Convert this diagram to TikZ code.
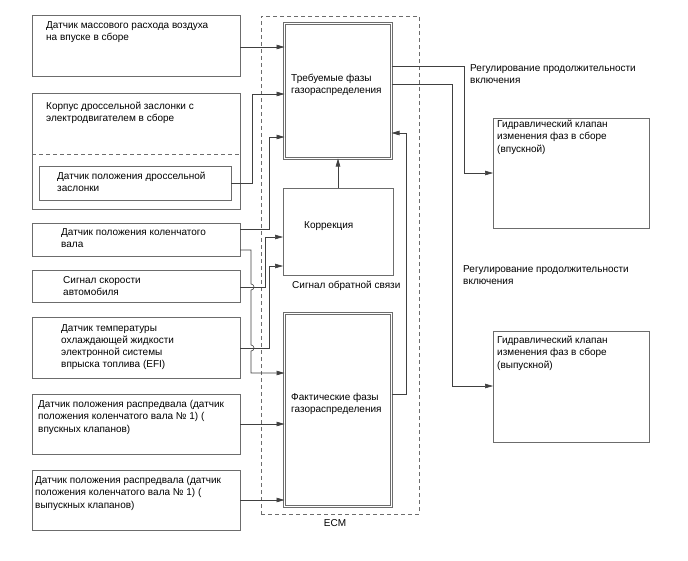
\documentclass[tikz,border=0pt]{standalone}
\usepackage{fontspec}
\setmainfont{Liberation Sans}
\usetikzlibrary{arrows.meta, positioning}

\begin{document}
\begin{tikzpicture}[
    x=1pt, y=-1pt,
    base/.style={draw=gray!85!black, line width=0.6pt, inner sep=0pt, outer sep=0pt, anchor=north west},
    sensor/.style={base, minimum width=208pt},
    ecmbox/.style={base, minimum width=107pt, double=white, double distance=1.6pt},
    valve/.style={base, minimum width=156pt},
    txt/.style={anchor=north west, inner sep=0pt, align=left, font=\fontsize{10}{12.3}\selectfont},
    arrow/.style={-{Triangle[length=8pt,width=4.5pt]}, draw=black!75, line width=0.6pt}
]
    \useasboundingbox (0,0) rectangle (688,560);

    % Sensors
    \node (maf) [sensor, minimum height=61pt] at (32,15) {};
    \node (tb) [sensor, minimum height=116pt] at (32,93) {};
    \node (tps) [base, minimum width=192pt, minimum height=34pt] at (39,166) {};
    \node (ckp) [sensor, minimum height=33pt] at (32,223) {};
    \node (vss) [sensor, minimum height=32pt] at (32,270) {};
    \node (ect) [sensor, minimum height=61pt] at (32,317) {};
    \node (camin) [sensor, minimum height=60pt] at (32,394) {};
    \node (camex) [sensor, minimum height=60pt] at (32,470) {};
    \draw [draw=gray!85!black, line width=0.6pt, dash pattern=on 4pt off 3pt] (tb.west |- 0,154) -- (tb.east |- 0,154);

    % ECM
    \node (ecm) [base, dash pattern=on 4pt off 3pt, minimum width=158pt, minimum height=498pt] at (261,16) {};
    \node (req) [ecmbox, minimum height=135pt] at (284.5,23.5) {};
    \node (corr) [base, minimum width=110pt, minimum height=87pt] at (283,188) {};
    \node (act) [ecmbox, minimum height=193pt] at (284.5,313.5) {};

    % Valves
    \node (ocvin) [valve, minimum height=110pt] at (493,118) {};
    \node (ocvex) [valve, minimum height=111pt] at (493,331) {};

    % Texts
    \node (maftxt) [txt] at (46,21) {Датчик массового расхода воздуха\\на впуске в сборе};
    \node (tbtxt) [txt] at (46,102) {Корпус дроссельной заслонки с\\электродвигателем в сборе};
    \node (tpstxt) [txt] at (57,172) {Датчик положения дроссельной\\заслонки};
    \node (ckptxt) [txt] at (61,228) {Датчик положения коленчатого\\вала};
    \node (vsstxt) [txt] at (63,276) {Сигнал скорости\\автомобиля};
    \node (ecttxt) [txt] at (61,324) {Датчик температуры\\охлаждающей жидкости\\электронной системы\\впрыска топлива (EFI)};
    \node (camintxt) [txt] at (38,400) {Датчик положения распредвала (датчик\\положения коленчатого вала № 1) (\\впускных клапанов)};
    \node (camextxt) [txt] at (35,476) {Датчик положения распредвала (датчик\\положения коленчатого вала № 1) (\\выпускных клапанов)};
    \node (reqtxt) [txt] at (291,74) {Требуемые фазы\\газораспределения};
    \node (corrtxt) [txt] at (304,221) {Коррекция};
    \node (fbtxt) [txt] at (292,281) {Сигнал обратной связи};
    \node (acttxt) [txt] at (291,393) {Фактические фазы\\газораспределения};
    \node (ecmtxt) [txt, anchor=center] at (335,523) {ECM};
    \node (reg1) [txt] at (470,64) {Регулирование продолжительности\\включения};
    \node (ocvintxt) [txt] at (497,120) {Гидравлический клапан\\изменения фаз в сборе\\(впускной)};
    \node (reg2) [txt] at (463,265) {Регулирование продолжительности\\включения};
    \node (ocvextxt) [txt] at (497,336) {Гидравлический клапан\\изменения фаз в сборе\\(выпускной)};

    % Paths
    \draw [arrow] (maf.east |- 0,47) -- (req.west |- 0,47);
    \draw [arrow] (tps.east) -- ++(21,0) |- (req.west |- 0,94);
    \draw [arrow] (ckp.east |- 0,229) -- ++(29,0) |- (req.west |- 0,137);
    \draw [arrow] (vss.east |- 0,287) -- ++(25,0) |- (corr.west |- 0,237);
    \draw [arrow] (ect.east |- 0,348) -- ++(29,0) |- (corr.west |- 0,266);
    \draw [arrow] (ckp.east |- 0,250) -- ++(11,0) -- ++(0,34)
        arc[start angle=-90, end angle=90, radius=3] -- ++(0,55)
        arc[start angle=-90, end angle=90, radius=3] |- (act.west |- 0,373);
    \draw [arrow] (camin.east) -- (act.west |- camin.east);
    \draw [arrow] (camex.east) -- (act.west |- camex.east);
    \draw [arrow] (corr.north) -- (req.south);
    \draw [arrow] (act.east |- 0,394) -- ++(15,0) |- (req.east |- 0,133);
    \draw [arrow] (req.east |- 0,66) -- ++(73,0) |- (ocvin.west |- 0,173);
    \draw [arrow] (req.east |- 0,84) -- ++(61,0) |- (ocvex.west |- 0,386);
\end{tikzpicture}
\end{document}
